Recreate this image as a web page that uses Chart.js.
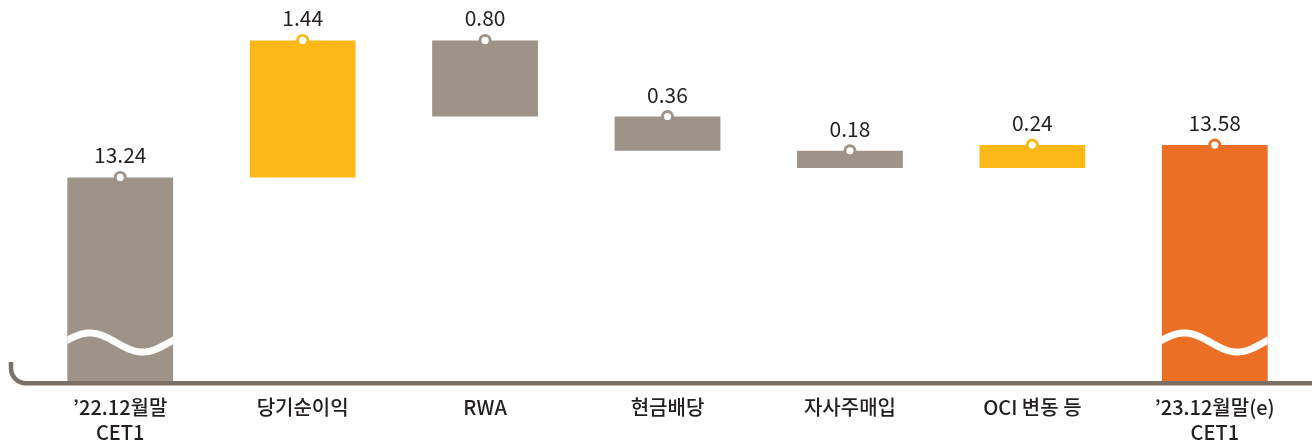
<!DOCTYPE html>
<html>
<head>
<meta charset="utf-8">
<script src="https://cdn.jsdelivr.net/npm/chart.js@4"></script>
<style>
  html, body { margin: 0; padding: 0; background: #ffffff; }
  #wrap { width: 1312px; height: 448px; position: relative; }
</style>
</head>
<body>
<div id="wrap"><canvas id="c" width="1312" height="448"></canvas></div>
<script>
// ---- data ----
const categories = [["’22.12월말", "CET1"], "당기순이익", "RWA", "현금배당", "자사주매입", "OCI 변동 등", ["’23.12월말(e)", "CET1"]];
const changes = [13.24, 1.44, -0.80, -0.36, -0.18, 0.24, 13.58];
const kinds = ["total", "up", "down", "down", "down", "up", "total"];
const valueLabels = ["13.24", "1.44", "0.80", "0.36", "0.18", "0.24", "13.58"];
const axisFloor = 11.1;
const axisCeil = 15.0;

// ---- style ----
const GRAY = "#9e9389";
const YELLOW = "#fbb817";
const ORANGE = "#eb6f25";
const AXIS = "#7b7067";
const barColors = [GRAY, YELLOW, GRAY, GRAY, GRAY, YELLOW, ORANGE];
const FONT = "'Noto Sans CJK KR', 'Noto Sans', sans-serif";
const FONT_MED = "'Noto Sans CJK KR Medium', 'Noto Sans CJK KR', 'Noto Sans', sans-serif";

// build floating ranges
let level = 0;
const ranges = [];
const tops = [];
changes.forEach((v, i) => {
  if (kinds[i] === "total") {
    level = v;
    ranges.push([axisFloor, v]);
    tops.push(v);
  } else {
    const start = level;
    level = level + v;
    ranges.push([start, level]);
    tops.push(Math.max(start, level));
  }
});

const overlayPlugin = {
  id: "overlay",
  afterDatasetsDraw(chart) {
    const ctx = chart.ctx;
    const meta = chart.getDatasetMeta(0);
    const yScale = chart.scales.y;
    meta.data.forEach((bar, i) => {
      const props = bar.getProps(["x", "width", "base", "y"], true);
      const left = props.x - props.width / 2;
      const w = props.width;
      const bottom = chart.chartArea.bottom;
      // break wave on total bars
      if (kinds[i] === "total") {
        ctx.save();
        ctx.beginPath();
        ctx.rect(left, chart.chartArea.top, w, bottom - chart.chartArea.top);
        ctx.clip();
        ctx.beginPath();
        const cy = bottom - 38.5;
        const amp = 9.5;
        for (let k = -5; k <= w + 5; k++) {
          const px = left + k;
          const py = cy - amp * Math.sin(2 * Math.PI * (k + 4) / w);
          if (k === -5) ctx.moveTo(px, py); else ctx.lineTo(px, py);
        }
        ctx.strokeStyle = "#ffffff";
        ctx.lineWidth = 7;
        ctx.stroke();
        ctx.restore();
      }
      // marker ring at top
      const ty = yScale.getPixelForValue(tops[i]);
      ctx.save();
      ctx.beginPath();
      ctx.arc(props.x, ty, 6.5, 0, Math.PI * 2);
      ctx.fillStyle = barColors[i];
      ctx.fill();
      ctx.beginPath();
      ctx.arc(props.x, ty, 3.6, 0, Math.PI * 2);
      ctx.fillStyle = "#ffffff";
      ctx.fill();
      // value label
      ctx.font = "400 21px " + FONT;
      ctx.fillStyle = "#231f20";
      ctx.textAlign = "center";
      ctx.textBaseline = "alphabetic";
      ctx.fillText(valueLabels[i], props.x, ty - 14);
      ctx.restore();
    });
    // axis line with rounded left corner
    ctx.save();
    const ay = chart.chartArea.bottom + 2.2;
    const r = 15;
    ctx.beginPath();
    ctx.moveTo(11, 362);
    ctx.lineTo(11, ay - r);
    ctx.arcTo(11, ay, 11 + r, ay, r);
    ctx.lineTo(1312, ay);
    ctx.strokeStyle = AXIS;
    ctx.lineWidth = 4.5;
    ctx.stroke();
    ctx.restore();
  }
};

new Chart(document.getElementById("c"), {
  type: "bar",
  data: {
    labels: categories,
    datasets: [{
      data: ranges,
      backgroundColor: barColors,
      borderWidth: 0,
      borderSkipped: false,
      categoryPercentage: 1.0,
      barPercentage: 0.58
    }]
  },
  options: {
    responsive: false,
    animation: false,
    devicePixelRatio: 1,
    layout: { padding: { left: 29, right: 6, top: 10, bottom: 0 } },
    plugins: { legend: { display: false }, tooltip: { enabled: false } },
    scales: {
      x: {
        offset: true,
        grid: { display: false, drawTicks: false },
        border: { display: false },
        ticks: {
          color: "#231f20",
          font: { family: FONT_MED, size: 20, weight: "500", lineHeight: 1.25 },
          padding: 14,
          maxRotation: 0,
          autoSkip: false
        },
        afterFit(scale) { scale.height = 67; }
      },
      y: {
        display: false,
        min: axisFloor,
        max: axisCeil
      }
    }
  },
  plugins: [overlayPlugin]
});
</script>
</body>
</html>
